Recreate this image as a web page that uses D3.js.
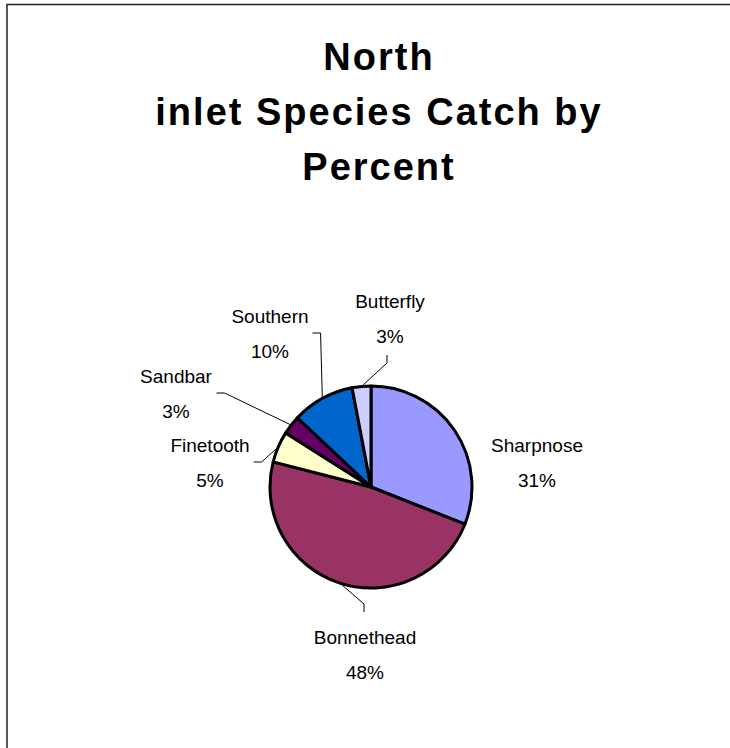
<!DOCTYPE html>
<html>
<head>
<meta charset="utf-8">
<script src="https://cdn.jsdelivr.net/npm/d3@7"></script>
<style>
  html, body { margin: 0; padding: 0; background: #fff; overflow: hidden; }
  svg { display: block; overflow: hidden; }
</style>
</head>
<body>
<script>
// data
var species  = ['Sharpnose', 'Bonnethead', 'Finetooth', 'Sandbar', 'Southern', 'Butterfly'];
var percents = [31, 48, 5, 3, 10, 3];
var colours  = ['#9999ff', '#993366', '#ffffcc', '#660066', '#0066cc', '#ccccff'];
var titleLines = ['North', 'inlet Species Catch by', 'Percent'];

// label layout (offset of first text line from pie centre) and leader side
var labelOffset = [[166, -35], [-6, 157], [-161, -35], [-195, -104], [-101, -164], [19, -179]];
var leaderSide  = [null, 'below', 'left', 'left', 'left', 'above'];

var W = 730, H = 748;
var cx = 371, cy = 487, R = 101;

var svg = d3.select('body').append('svg')
    .attr('width', W)
    .attr('height', H);

// chart frame: only the left and top edges fall inside the page
svg.append('path')
    .attr('d', d3.line()([[7, H + 10], [7, 4.5], [W + 10, 4.5]]))
    .attr('fill', 'none')
    .attr('stroke', '#222')
    .attr('stroke-width', 1.5);

// title
var title = svg.append('text')
    .attr('text-anchor', 'middle')
    .attr('font-family', 'Liberation Sans, Arial, sans-serif')
    .attr('font-weight', 'bold')
    .attr('font-size', 38)
    .attr('letter-spacing', 2)
    .attr('fill', '#000');
title.selectAll('tspan')
    .data(titleLines)
  .enter().append('tspan')
    .attr('x', 379)
    .attr('y', function(d, i){ return 70 + i * 55; })
    .text(function(d){ return d; });

// pie
var rows = species.map(function(s, i){
    return {name: s, value: percents[i], colour: colours[i], off: labelOffset[i], side: leaderSide[i]};
});

var pie = d3.pie()
    .sort(null)
    .value(function(d){ return d.value; })
    .startAngle(0)
    .endAngle(2 * Math.PI);

var arc = d3.arc().innerRadius(0).outerRadius(R);

var g = svg.append('g').attr('transform', 'translate(' + cx + ',' + cy + ')');
var arcs = pie(rows);

g.selectAll('path.slice')
    .data(arcs)
  .enter().append('path')
    .attr('class', 'slice')
    .attr('d', arc)
    .attr('fill', function(d){ return d.data.colour; })
    .attr('stroke', '#000')
    .attr('stroke-width', 3)
    .attr('stroke-linejoin', 'round');

// labels
var labels = g.selectAll('text.lbl')
    .data(arcs)
  .enter().append('text')
    .attr('class', 'lbl')
    .attr('text-anchor', 'middle')
    .attr('font-family', 'Liberation Sans, Arial, sans-serif')
    .attr('font-size', 19)
    .attr('fill', '#000');

labels.append('tspan')
    .attr('x', function(d){ return d.data.off[0]; })
    .attr('y', function(d){ return d.data.off[1]; })
    .text(function(d){ return d.data.name; });
labels.append('tspan')
    .attr('x', function(d){ return d.data.off[0]; })
    .attr('y', function(d){ return d.data.off[1] + 35; })
    .text(function(d){ return d.data.value + '%'; });

// leader lines: edge of slice -> elbow -> label
labels.each(function(d){
    if(!d.data.side) return;
    var box = this.getBBox();
    var mid = (d.startAngle + d.endAngle) / 2;
    var start = [R * Math.sin(mid), -R * Math.cos(mid)];
    var end, elbow;
    if(d.data.side == 'left'){
        end = [box.x + box.width + 4, d.data.off[1] + 10];
        elbow = [end[0] + 8, end[1]];
    }
    else if(d.data.side == 'above'){
        end = [d.data.off[0] - 3, box.y + box.height + 8];
        elbow = [end[0], end[1] + 8];
    }
    else {
        end = [d.data.off[0] - 1, box.y - 15];
        elbow = [end[0], end[1] - 8];
    }
    g.append('path')
        .attr('d', d3.line()([start, elbow, end]))
        .attr('fill', 'none')
        .attr('stroke', '#000')
        .attr('stroke-width', 1);
});
</script>
</body>
</html>
